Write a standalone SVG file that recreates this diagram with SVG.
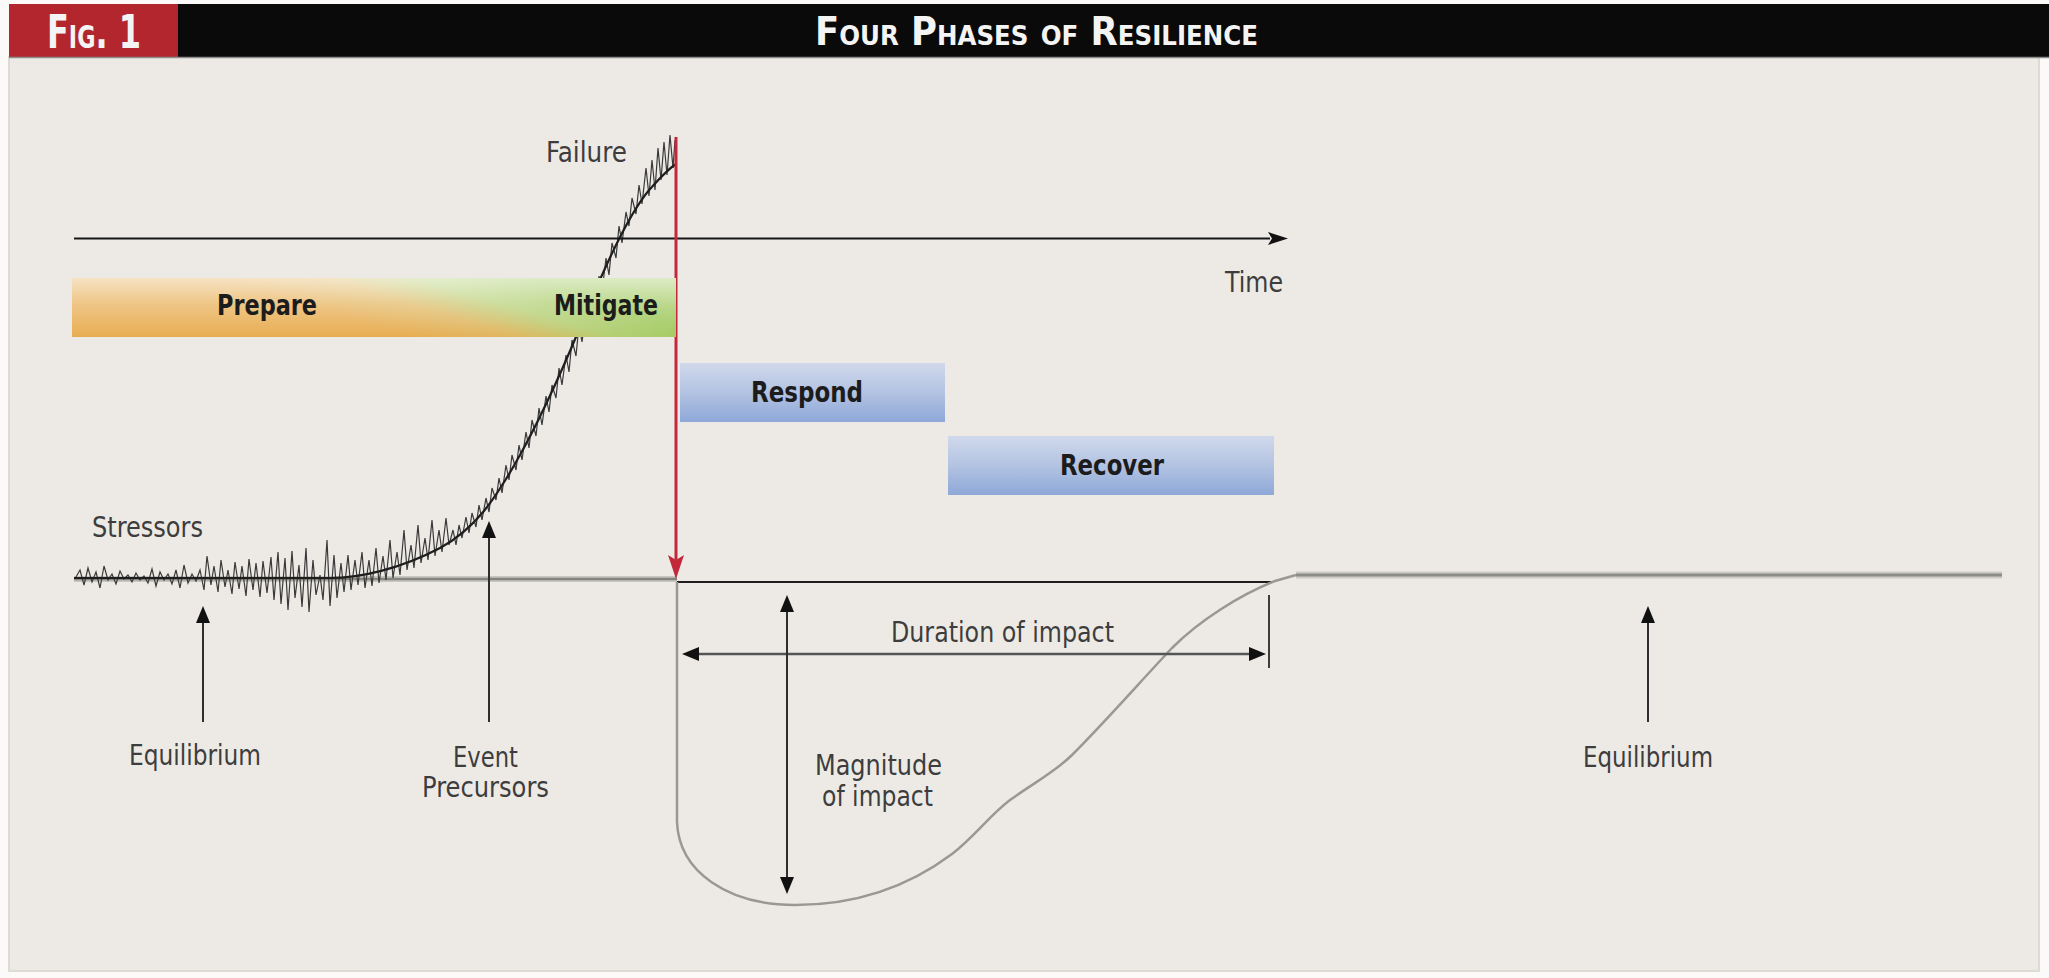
<svg xmlns="http://www.w3.org/2000/svg" width="2049" height="978" viewBox="0 0 2049 978">
<style>
.lbl{font-family:"Liberation Sans Narrow","DejaVu Sans Condensed","Liberation Sans",Arial,sans-serif;font-size:28px;fill:#3d3d3d}
.bold{font-family:"Liberation Sans Narrow","DejaVu Sans Condensed","Liberation Sans",Arial,sans-serif;font-size:29px;font-weight:bold;fill:#1c1c1c}
.hdr{font-family:"Liberation Sans Narrow","DejaVu Sans Condensed","Liberation Sans",Arial,sans-serif;font-weight:bold;fill:#f4f4f4;font-variant:small-caps}
.arr{stroke:#2e2e2e;stroke-width:2;fill:none}
.head{fill:#111}
</style>
<defs>
<linearGradient id="prep" gradientUnits="userSpaceOnUse" x1="455" y1="350" x2="481" y2="264">
<stop offset="0" stop-color="#e8ad52"/>
<stop offset="0.35" stop-color="#dfb862"/>
<stop offset="0.65" stop-color="#b4cf73"/>
<stop offset="1" stop-color="#9fc85c"/>
</linearGradient>
<linearGradient id="shine" x1="0" y1="0" x2="0" y2="1">
<stop offset="0" stop-color="#ffffff" stop-opacity="0.65"/>
<stop offset="0.45" stop-color="#ffffff" stop-opacity="0.3"/>
<stop offset="1" stop-color="#ffffff" stop-opacity="0"/>
</linearGradient>
<linearGradient id="blue" x1="0" y1="0" x2="0" y2="1">
<stop offset="0" stop-color="#d0d8eb"/>
<stop offset="0.5" stop-color="#b3c3e2"/>
<stop offset="1" stop-color="#8ea8d8"/>
</linearGradient>
</defs>
<rect x="0" y="0" width="2049" height="978" fill="#fbfaf8"/>
<rect x="9" y="57" width="2030" height="914" fill="#edeae6" stroke="#dedbd5" stroke-width="2"/>
<g id="header">
<rect x="9" y="4" width="2040" height="53" fill="#0a0a0b"/>
<rect x="9" y="4" width="169" height="53" fill="#b3262d"/>
<line x1="9" y1="57.5" x2="2049" y2="57.5" stroke="#8c8c8c" stroke-width="1.5"/>
<text class="hdr" x="47" y="48" font-size="46" textLength="94" lengthAdjust="spacingAndGlyphs">Fig. 1</text>
<text class="hdr" x="815" y="45" font-size="39" textLength="443" lengthAdjust="spacingAndGlyphs">Four Phases of Resilience</text>
</g>
<g id="baseline-left">
<line x1="74" y1="579" x2="677" y2="579" stroke="#c9c6c0" stroke-width="6"/>
<line x1="74" y1="579" x2="677" y2="579" stroke="#85857f" stroke-width="2.5"/>
</g>
<g id="stress-curve">
<polyline fill="none" stroke="#3a3a3a" stroke-width="1.2" points="76,577 80,570 84,585 88,568 92,582 96,572 100,588 104,566 108,580 112,574 116,584 120,571 124,579 128,575 132,582 136,573 140,580 144,576 148,583 152,569 156,586 160,572 164,580 168,574 172,584 176,570 180,588 184,565 188,583 192,574 196,581 200,570 204,590 207,556 211,585 214,566 218,592 221,560 225,587 228,570 232,594 235,562 239,589 242,566 246,596 249,559 253,590 256,563 260,597 263,561 267,593 271,557 274,600 278,552 281,604 285,558 288,610 292,551 295,598 299,565 302,607 306,548 309,612 313,560 316,595 320,575 323,600 327,540 330,606 334,555 337,598 341,563 344,592 348,555 351,590 355,560 358,585 362,552 365,588 369,560 372,586 376,548 379,583 383,556 386,580 390,540 393,578 397,552 400,575 404,530 407,570 411,545 414,568 418,525 421,563 425,538 428,560 432,520 435,556 439,530 442,552 446,518 449,545 453,530 456,545 459,525 462,538 466,517 469,533 472,513 476,527 479,505 482,520 486,498 489,512 492,488 496,500 499,478 502,493 506,465 509,480 512,455 516,470 519,445 522,460 526,432 529,448 532,420 536,436 539,408 542,425 546,396 549,412 552,385 556,398 559,368 562,385 566,355 569,372 572,340 576,356 579,325 582,342 586,310 589,326 592,292 596,310 599,276 602,292 606,258 609,275 612,243 616,258 619,226 622,243 626,212 629,226 632,198 636,214 639,185 642,204 646,168 649,196 652,160 655,190 658,148 661,180 664,142 667,175 670,135 673,168 675,140"/>
<path d="M74,578 L330,578 C360,578 400,569 440,548 C475,529 495,500 520,455 C545,410 565,365 590,303 C610,255 630,212 650,189 C660,178 668,169 676,164" fill="none" stroke="#1e1e1e" stroke-width="2.2"/>
</g>
<g id="connectors">
<line x1="74" y1="238.5" x2="1270" y2="238.5" stroke="#161616" stroke-width="2"/>
<polygon class="head" points="1288,238.5 1268,232 1272,238.5 1268,245"/>
<line x1="676" y1="137" x2="676" y2="560" stroke="#c3283a" stroke-width="3"/>
<polygon points="676,579 668,555 676,560 684,555" fill="#c3283a"/>
<line x1="677" y1="582" x2="1272" y2="582" stroke="#1e1e1e" stroke-width="2"/>
<path d="M677,582 L677,822 C679,872 728,905 795,905 C860,905 912,884 952,854 C975,836 990,815 1010,800 C1035,782 1055,772 1072,755 C1105,722 1140,682 1172,648 C1200,620 1240,595 1275,581 L1296,575" fill="none" stroke="#999893" stroke-width="2.5"/>
<line x1="1296" y1="575" x2="2002" y2="575" stroke="#cdcac4" stroke-width="7"/>
<line x1="1296" y1="575" x2="2002" y2="575" stroke="#8d8d88" stroke-width="3"/>
<line class="arr" x1="203" y1="620" x2="203" y2="722"/>
<polygon class="head" points="203,606 196,623 210,623"/>
<line class="arr" x1="489" y1="536" x2="489" y2="722"/>
<polygon class="head" points="489,521 482,538 496,538"/>
<line class="arr" x1="1648" y1="620" x2="1648" y2="722"/>
<polygon class="head" points="1648,606 1641,623 1655,623"/>
<line x1="695" y1="654" x2="1252" y2="654" stroke="#555" stroke-width="2.5"/>
<polygon class="head" points="682,654 699,647 699,661"/>
<polygon class="head" points="1266,654 1249,647 1249,661"/>
<line x1="1269" y1="595" x2="1269" y2="668" stroke="#2a2a2a" stroke-width="1.8"/>
<line class="arr" x1="787" y1="610" x2="787" y2="878"/>
<polygon class="head" points="787,595 780,612 794,612"/>
<polygon class="head" points="787,894 780,877 794,877"/>
</g>
<g id="prepare-mitigate">
<rect x="72" y="278" width="604" height="59" fill="url(#prep)"/>
<rect x="72" y="278" width="604" height="59" fill="url(#shine)"/>
<text class="bold" x="217" y="315" textLength="100" lengthAdjust="spacingAndGlyphs">Prepare</text>
<text class="bold" x="554" y="315" textLength="104" lengthAdjust="spacingAndGlyphs">Mitigate</text>
</g>
<g id="respond">
<rect x="680" y="363" width="265" height="59" fill="url(#blue)"/>
<text class="bold" x="751" y="402" textLength="112" lengthAdjust="spacingAndGlyphs">Respond</text>
</g>
<g id="recover">
<rect x="948" y="436" width="326" height="59" fill="url(#blue)"/>
<text class="bold" x="1060" y="475" textLength="104" lengthAdjust="spacingAndGlyphs">Recover</text>
</g>
<g id="labels">
<text class="lbl" x="546" y="162" textLength="81" lengthAdjust="spacingAndGlyphs">Failure</text>
<text class="lbl" x="1225" y="292" textLength="58" lengthAdjust="spacingAndGlyphs">Time</text>
<text class="lbl" x="92" y="537" textLength="111" lengthAdjust="spacingAndGlyphs">Stressors</text>
<text class="lbl" x="129" y="765" textLength="132" lengthAdjust="spacingAndGlyphs">Equilibrium</text>
<text class="lbl" x="453" y="767" textLength="65" lengthAdjust="spacingAndGlyphs">Event</text>
<text class="lbl" x="422" y="797" textLength="127" lengthAdjust="spacingAndGlyphs">Precursors</text>
<text class="lbl" x="891" y="642" textLength="223" lengthAdjust="spacingAndGlyphs">Duration of impact</text>
<text class="lbl" x="815" y="775" textLength="127" lengthAdjust="spacingAndGlyphs">Magnitude</text>
<text class="lbl" x="822" y="806" textLength="111" lengthAdjust="spacingAndGlyphs">of impact</text>
<text class="lbl" x="1583" y="767" textLength="130" lengthAdjust="spacingAndGlyphs">Equilibrium</text>
</g>
</svg>
